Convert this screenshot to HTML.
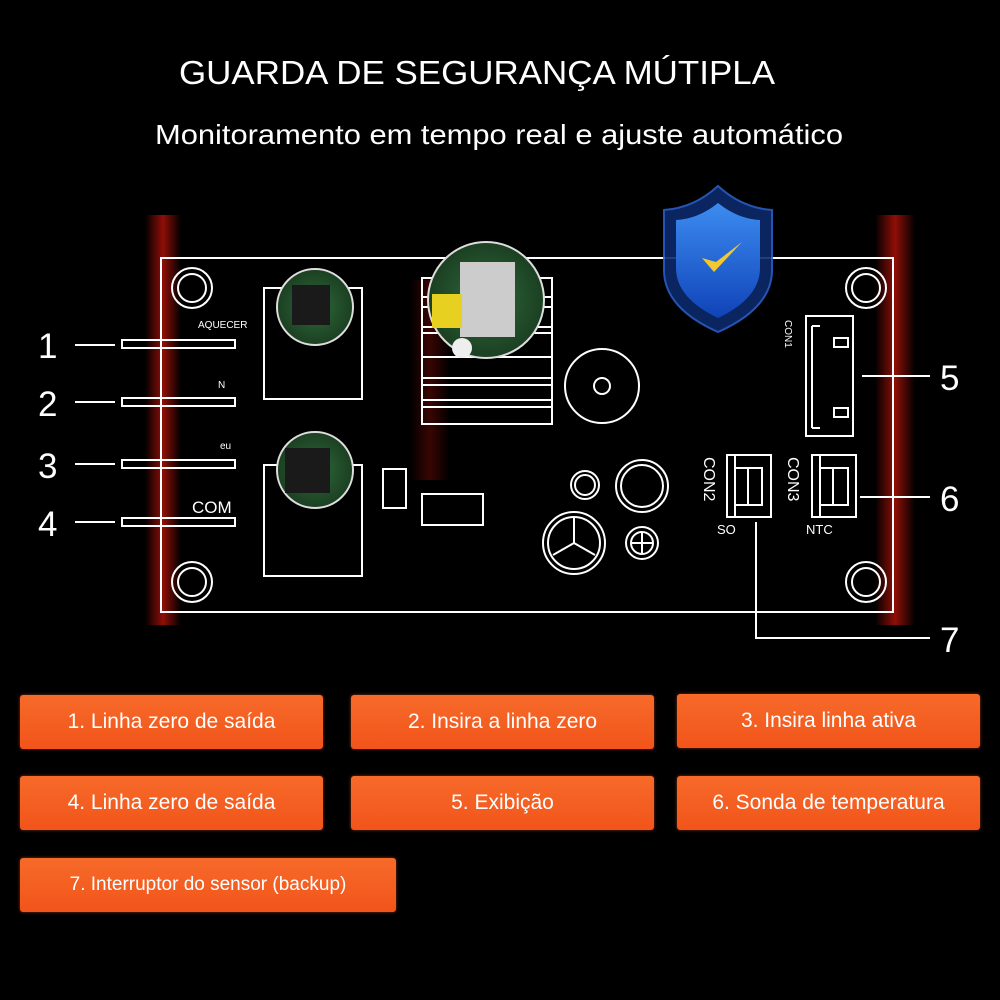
<!DOCTYPE html>
<html><head><meta charset="utf-8"><style>
html,body{margin:0;padding:0;background:#000;}
body{width:1000px;height:1000px;position:relative;overflow:hidden;font-family:"Liberation Sans",sans-serif;}
.btn{position:absolute;height:54px;background:linear-gradient(#f66a2a,#f2541a);border-radius:3px;color:#fff;font-size:21px;display:flex;align-items:center;justify-content:center;box-shadow:0 0 3px rgba(255,100,40,.5);}
</style></head><body>
<svg width="1000" height="1000" style="position:absolute;left:0;top:0">
<defs>
<linearGradient id="gl" x1="0" x2="1"><stop offset="0" stop-color="#000"/><stop offset=".5" stop-color="#a01008"/><stop offset="1" stop-color="#000"/></linearGradient>
<linearGradient id="sh" x1="0" y1="0" x2="0" y2="1"><stop offset="0" stop-color="#3d8cf0"/><stop offset="1" stop-color="#1043b8"/></linearGradient>
<radialGradient id="pc" cx=".5" cy=".5" r=".5"><stop offset="0" stop-color="#2f6b3a"/><stop offset="1" stop-color="#1b3f22"/></radialGradient>
</defs>
<rect x="145" y="215" width="36" height="410" fill="url(#gl)" opacity=".9"/>
<rect x="875" y="215" width="40" height="410" fill="url(#gl)" opacity=".9"/>
<rect x="410" y="280" width="40" height="200" fill="url(#gl)" opacity=".35"/>
<text x="477" y="84" fill="#fff" font-size="33" text-anchor="middle" textLength="596" lengthAdjust="spacingAndGlyphs">GUARDA DE SEGURANÇA MÚTIPLA</text>
<text x="499" y="144" fill="#fff" font-size="28" text-anchor="middle" textLength="688" lengthAdjust="spacingAndGlyphs">Monitoramento em tempo real e ajuste automático</text>
<g fill="none" stroke="#fff" stroke-width="2">
<rect x="161" y="258" width="732" height="354"/>
<circle cx="192" cy="288" r="20"/><circle cx="192" cy="288" r="14"/>
<circle cx="866" cy="288" r="20"/><circle cx="866" cy="288" r="14"/>
<circle cx="192" cy="582" r="20"/><circle cx="192" cy="582" r="14"/>
<circle cx="866" cy="582" r="20"/><circle cx="866" cy="582" r="14"/>
<rect x="264" y="288" width="98" height="111"/>
<rect x="264" y="465" width="98" height="111"/>
<rect x="422" y="278" width="130" height="146"/>
<line x1="422" y1="297" x2="552" y2="297"/><line x1="422" y1="307" x2="552" y2="307"/>
<line x1="422" y1="327" x2="552" y2="327"/><line x1="422" y1="333" x2="552" y2="333"/>
<line x1="422" y1="357" x2="552" y2="357"/><line x1="422" y1="378" x2="552" y2="378"/>
<line x1="422" y1="385" x2="552" y2="385"/><line x1="422" y1="400" x2="552" y2="400"/>
<line x1="422" y1="407" x2="552" y2="407"/>
<circle cx="602" cy="386" r="37"/><circle cx="602" cy="386" r="8"/>
<rect x="383" y="469" width="23" height="39"/>
<rect x="422" y="494" width="61" height="31"/>
<circle cx="585" cy="485" r="14"/><circle cx="585" cy="485" r="10"/>
<circle cx="642" cy="486" r="26"/><circle cx="642" cy="486" r="21"/>
<circle cx="574" cy="543" r="31"/><circle cx="574" cy="543" r="26"/>
<path d="M574 543 L574 518 M574 543 L553 555 M574 543 L595 555"/>
<circle cx="642" cy="543" r="16"/><circle cx="642" cy="543" r="11"/>
<path d="M631 543 H653 M642 532 V554"/>
<rect x="806" y="316" width="47" height="120"/>
<path d="M812 326 V428 M812 326 H820 M812 428 H820 M834 338 h14 v9 h-14 z M834 408 h14 v9 h-14 z"/>
<rect x="727" y="455" width="44" height="62"/>
<path d="M735 455 V517 M735 468 H748 V505 H735 M748 468 H762 V505 H748"/>
<rect x="812" y="455" width="44" height="62"/>
<path d="M820 455 V517 M820 468 H833 V505 H820 M833 468 H848 V505 H833"/>
<path d="M756 522 V638 H930"/>
<line x1="862" y1="376" x2="930" y2="376"/>
<line x1="860" y1="497" x2="930" y2="497"/>
<line x1="75" y1="345" x2="115" y2="345"/><rect x="122" y="340" width="113" height="8"/>
<line x1="75" y1="402" x2="115" y2="402"/><rect x="122" y="398" width="113" height="8"/>
<line x1="75" y1="464" x2="115" y2="464"/><rect x="122" y="460" width="113" height="8"/>
<line x1="75" y1="522" x2="115" y2="522"/><rect x="122" y="518" width="113" height="8"/>
</g>
<g fill="#fff" font-size="35">
<text x="38" y="358">1</text><text x="38" y="416">2</text><text x="38" y="478">3</text><text x="38" y="536">4</text>
<text x="940" y="390">5</text><text x="940" y="511">6</text><text x="940" y="652">7</text>
</g>
<g fill="#fff">
<text x="198" y="328" font-size="10">AQUECER</text>
<text x="218" y="388" font-size="10">N</text>
<text x="220" y="449" font-size="10">eu</text>
<text x="192" y="513" font-size="17">COM</text>
<text x="717" y="534" font-size="13">SO</text>
<text x="806" y="534" font-size="13">NTC</text>
<text transform="translate(704,457) rotate(90)" font-size="16">CON2</text>
<text transform="translate(788,457) rotate(90)" font-size="16">CON3</text>
<text transform="translate(785,320) rotate(90)" font-size="10">CON1</text>
</g>
<circle cx="315" cy="307" r="38" fill="url(#pc)" stroke="#ddd" stroke-width="2"/>
<rect x="292" y="285" width="38" height="40" fill="#1a1a1a"/>
<circle cx="315" cy="470" r="38" fill="url(#pc)" stroke="#ddd" stroke-width="2"/>
<rect x="285" y="448" width="45" height="45" fill="#1a1a1a"/>
<circle cx="486" cy="300" r="58" fill="url(#pc)" stroke="#ddd" stroke-width="2"/>
<rect x="460" y="262" width="55" height="75" fill="#ccc"/>
<rect x="432" y="294" width="30" height="34" fill="#e8d020"/>
<circle cx="462" cy="348" r="10" fill="#eee"/>
<path d="M718 186 Q742 208 772 210 L772 270 Q772 308 718 332 Q664 308 664 270 L664 210 Q694 208 718 186Z" fill="#0c2a6a" stroke="#2a5ec8" stroke-width="2" opacity=".9"/>
<path d="M718 203 Q738 219 760 220 L760 268 Q760 298 718 318 Q676 298 676 268 L676 220 Q698 219 718 203Z" fill="url(#sh)"/>
<path d="M702 258 L714 272 L742 242 L716 262Z" fill="#f2c830"/>
</svg>
<div class="btn" style="left:20px;top:695px;width:303px">1. Linha zero de saída</div>
<div class="btn" style="left:351px;top:695px;width:303px">2. Insira a linha zero</div>
<div class="btn" style="left:677px;top:694px;width:303px">3. Insira linha ativa</div>
<div class="btn" style="left:20px;top:776px;width:303px">4. Linha zero de saída</div>
<div class="btn" style="left:351px;top:776px;width:303px">5. Exibição</div>
<div class="btn" style="left:677px;top:776px;width:303px">6. Sonda de temperatura</div>
<div class="btn" style="left:20px;top:858px;width:376px;font-size:19px">7. Interruptor do sensor (backup)</div>
</body></html>
